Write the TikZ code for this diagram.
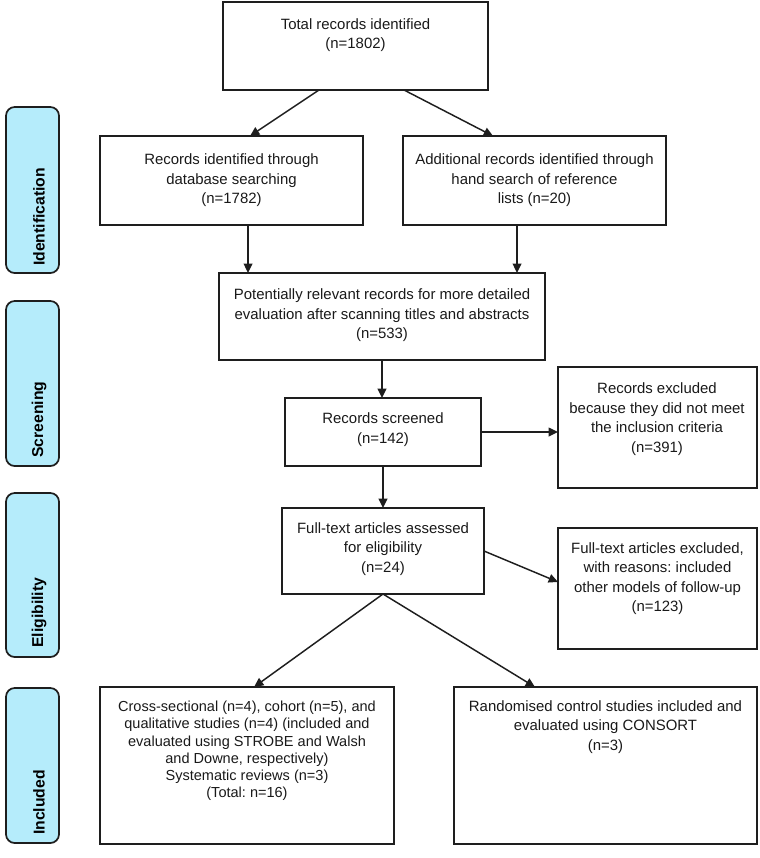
\documentclass[tikz,border=0pt]{standalone}
\usepackage{fontspec}
\setmainfont{Liberation Sans}
\frenchspacing
\usetikzlibrary{arrows.meta,fit,calc}
\definecolor{labfill}{RGB}{181,236,251}
\definecolor{ln}{RGB}{30,30,30}
\begin{document}
\begin{tikzpicture}[x=0.75pt,y=-0.75pt,
  box/.style={draw=ln,line width=1.3pt,inner sep=0pt,outer sep=0pt},
  txt/.style={align=center,font=\fontsize{11.2}{14.6}\selectfont,inner sep=0pt,text=black!90},
  labbox/.style={draw=ln,line width=1.3pt,fill=labfill,rounded corners=6.5pt,inner sep=0pt,outer sep=0pt},
  labtxt/.style={rotate=90,anchor=west,font=\bfseries\fontsize{11.8}{13}\selectfont,inner sep=0pt},
  arr/.style={-{Triangle[length=7pt,width=6.5pt]},line width=1.1pt,draw=ln}]
\useasboundingbox (0,0) rectangle (760,858);

% side labels
\node[labbox,fit={(6,107) (59,273)}] (idl) {};
\node[labbox,fit={(6,301) (59,466)}] (scl) {};
\node[labbox,fit={(6,493) (59,657)}] (ell) {};
\node[labbox,fit={(6,688) (59,843)}] (inl) {};
\node[labtxt] (idlT) at (39,266) {Identification};
\node[labtxt] (sclT) at (39,458) {Screening};
\node[labtxt] (ellT) at (39,648) {Eligibility};
\node[labtxt] (inlT) at (39,835) {Included};

% boxes
\node[box,fit={(223,2) (488,90)}] (tot) {};
\node[box,fit={(100,136) (363,225)}] (rid) {};
\node[box,fit={(403,136) (666,225)}] (add) {};
\node[box,fit={(219,273) (545,360)}] (pot) {};
\node[box,fit={(285,398) (481,466)}] (scr) {};
\node[box,fit={(558,367) (757,488)}] (exc) {};
\node[box,fit={(282,508) (484,594)}] (ass) {};
\node[box,fit={(558,528) (757,649)}] (fte) {};
\node[box,fit={(100,687) (394,844)}] (inc1) {};
\node[box,fit={(454,687) (757,844)}] (inc2) {};

% texts
\node[txt] (totT) at (355.5,35) {Total records identified\\(n=1802)};
\node[txt] (ridT) at (231.5,180.5) {Records identified through\\database searching\\(n=1782)};
\node[txt] (addT) at (534.5,180.5) {Additional records identified through\\hand search of reference\\lists (n=20)};
\node[txt] (potT) at (382,315.5) {Potentially relevant records for more detailed\\evaluation after scanning titles and abstracts\\(n=533)};
\node[txt] (scrT) at (383,429.5) {Records screened\\(n=142)};
\node[txt] (excT) at (657,419) {Records excluded\\because they did not meet\\the inclusion criteria\\(n=391)};
\node[txt] (assT) at (383,549) {Full-text articles assessed\\for eligibility\\(n=24)};
\node[txt] (fteT) at (657.5,578.5) {Full-text articles excluded,\\with reasons: included\\other models of follow-up\\(n=123)};
\node[txt,font=\fontsize{10.9}{12.9}\selectfont] (inc1T) at (247,751) {Cross-sectional (n=4), cohort (n=5), and\\qualitative studies (n=4) (included and\\evaluated using STROBE and Walsh\\and Downe, respectively)\\Systematic reviews (n=3)\\(Total: n=16)};
\node[txt] (inc2T) at (605.5,727) {Randomised control studies included and\\evaluated using CONSORT\\(n=3)};

% connectors
\draw[arr] ([xshift=-27.4pt]tot.south) -- ([xshift=13.9pt]rid.north);
\draw[arr] ([xshift=36.4pt]tot.south) -- ([xshift=-31.1pt]add.north);
\draw[arr] ([xshift=12.4pt]rid.south) -- ([xshift=12.4pt]rid.south |- pot.north);
\draw[arr] ([xshift=-13.1pt]add.south) -- ([xshift=-13.1pt]add.south |- pot.north);
\draw[arr] (pot.south) -- (pot.south |- scr.north);
\draw[arr] (scr.east) -- (scr.east -| exc.west);
\draw[arr] (scr.south) -- (scr.south |- ass.north);
\draw[arr] (ass.east) -- ([yshift=4.9pt]fte.west);
\draw[arr] (ass.south) -- ([xshift=5.3pt]inc1.north);
\draw[arr] (ass.south) -- ([xshift=-52.9pt]inc2.north);
\end{tikzpicture}
\end{document}
